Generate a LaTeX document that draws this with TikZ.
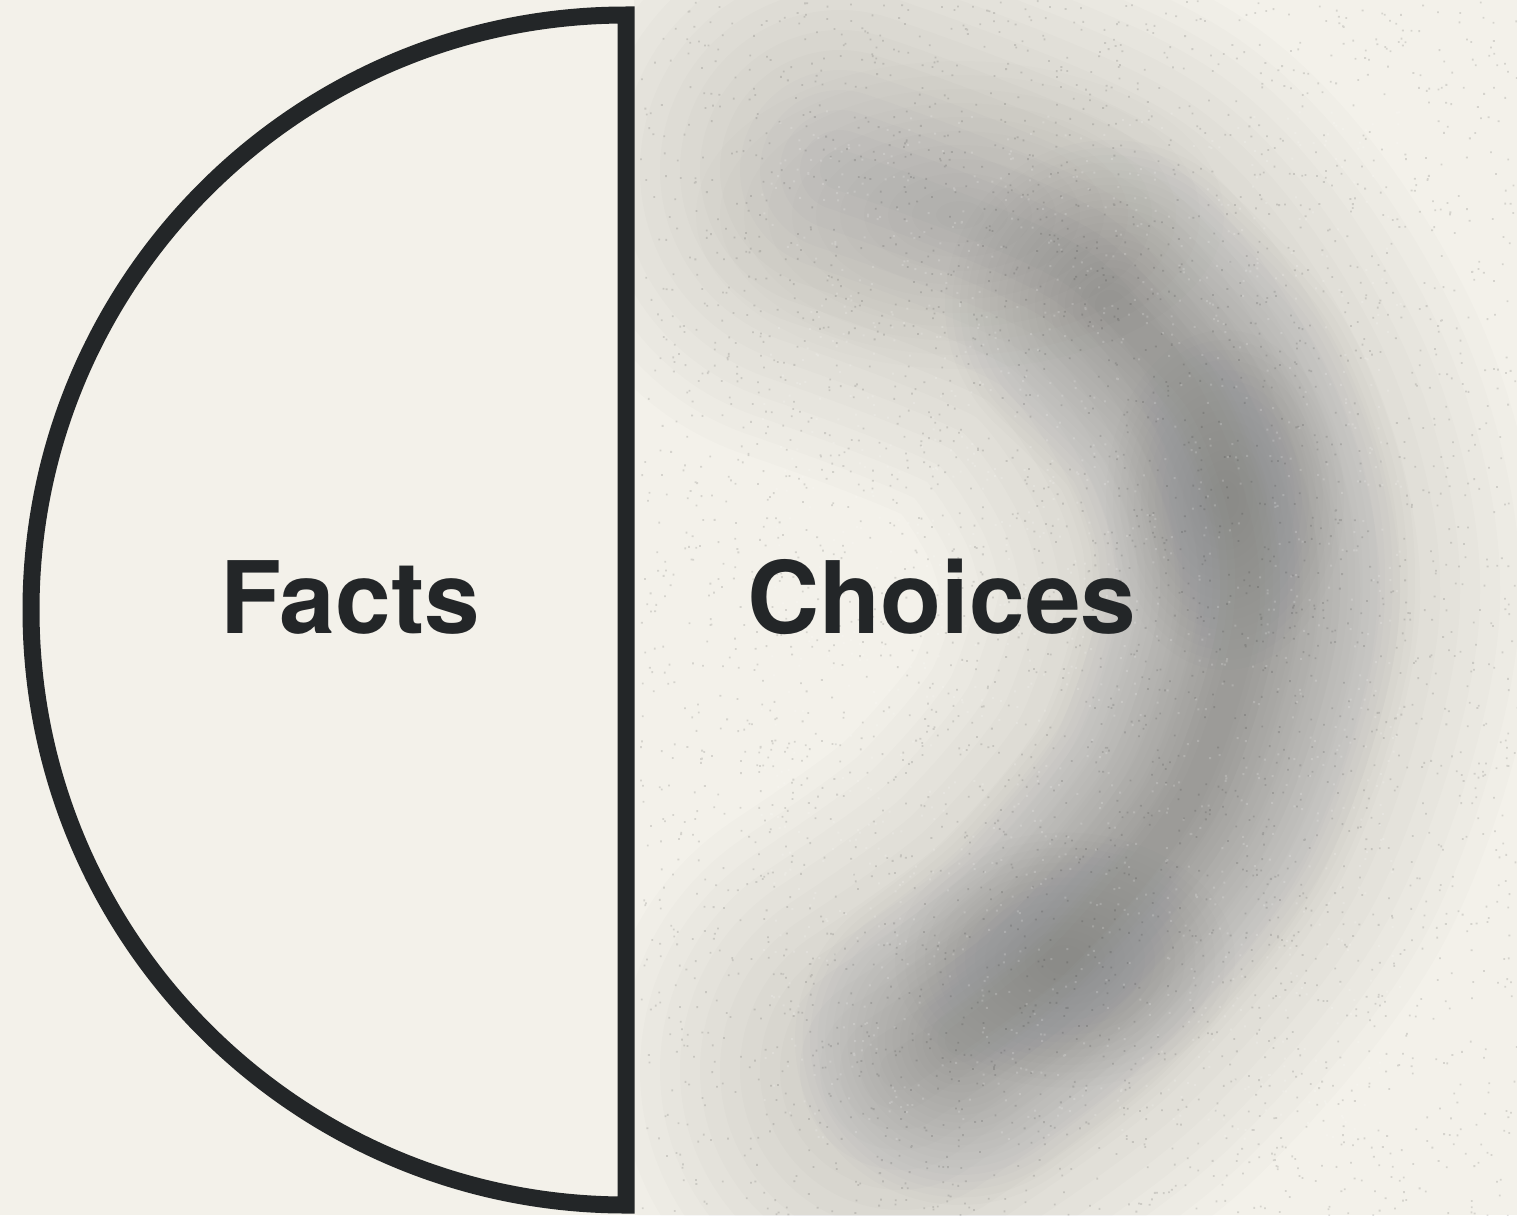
\documentclass[tikz,border=0pt]{standalone}
\usepackage{fontspec}
\setmainfont{TeX Gyre Heros}
\definecolor{bg}{HTML}{F3F1EA}
\definecolor{ink}{HTML}{232628}
\definecolor{smoke}{HTML}{1C1E23}
\begin{document}
\begin{tikzpicture}[x=1pt,y=-1pt,
  outline/.style={draw=ink,line width=17pt,line join=miter},
  label/.style={text=ink,font=\fontsize{100}{120}\selectfont\bfseries,inner sep=0pt,anchor=base},
  haze/.style={draw=smoke,line cap=round,line join=round}]
\useasboundingbox (0,0) rectangle (1517,1215);
\fill[bg] (0,0) rectangle (1517,1215);
\begin{scope}
\clip (634,0) rectangle (1517,1215);
% broad faint haze
\foreach \w in {40,80,...,600}{
  \draw[haze,line width=\w pt,opacity=0.010]
    plot[smooth] coordinates {(840,170) (1080,270) (1200,430) (1240,600) (1180,800) (1050,960) (900,1070)};
}
% top light blob
\foreach \r in {20,40,...,220}{
  \fill[smoke,opacity=0.007] (960,215) ellipse[x radius={\r*1.2},y radius={\r*0.7}];
}
% crescent core
\foreach \w in {30,45,...,330}{
  \draw[haze,line width=\w pt,opacity=0.011]
    plot[smooth] coordinates {(1110,305) (1200,400) (1245,520) (1245,640) (1190,800) (1070,950) (960,1040)};
}
% darker lobes
\foreach \r in {20,30,...,170}{
  \fill[smoke,opacity=0.007] (1225,500) ellipse[x radius={\r*0.7},y radius=\r];
  \fill[smoke,opacity=0.007] (1065,960) ellipse[x radius=\r,y radius={\r*0.75}];
}
% grain
\pgfmathsetseed{7}
\fill[black,opacity=0.12]
  \foreach \i in {1,...,3500}{
    ({640+rnd*877},{rnd*1215}) rectangle ++(1.8,1.8)
  };
\fill[white,opacity=0.18]
  \foreach \i in {1,...,1500}{
    ({760+rnd*640},{110+rnd*1030}) rectangle ++(2,2)
  };
\end{scope}
% half disc
\coordinate (top) at (626,15);
\coordinate (bot) at (626,1205);
\draw[outline] (top) arc[start angle=-90,end angle=-270,radius=595] -- cycle;
\node[label] (facts) at (350,633) {Facts};
\node[label] (choices) at (942,633) {Choices};
\end{tikzpicture}
\end{document}
